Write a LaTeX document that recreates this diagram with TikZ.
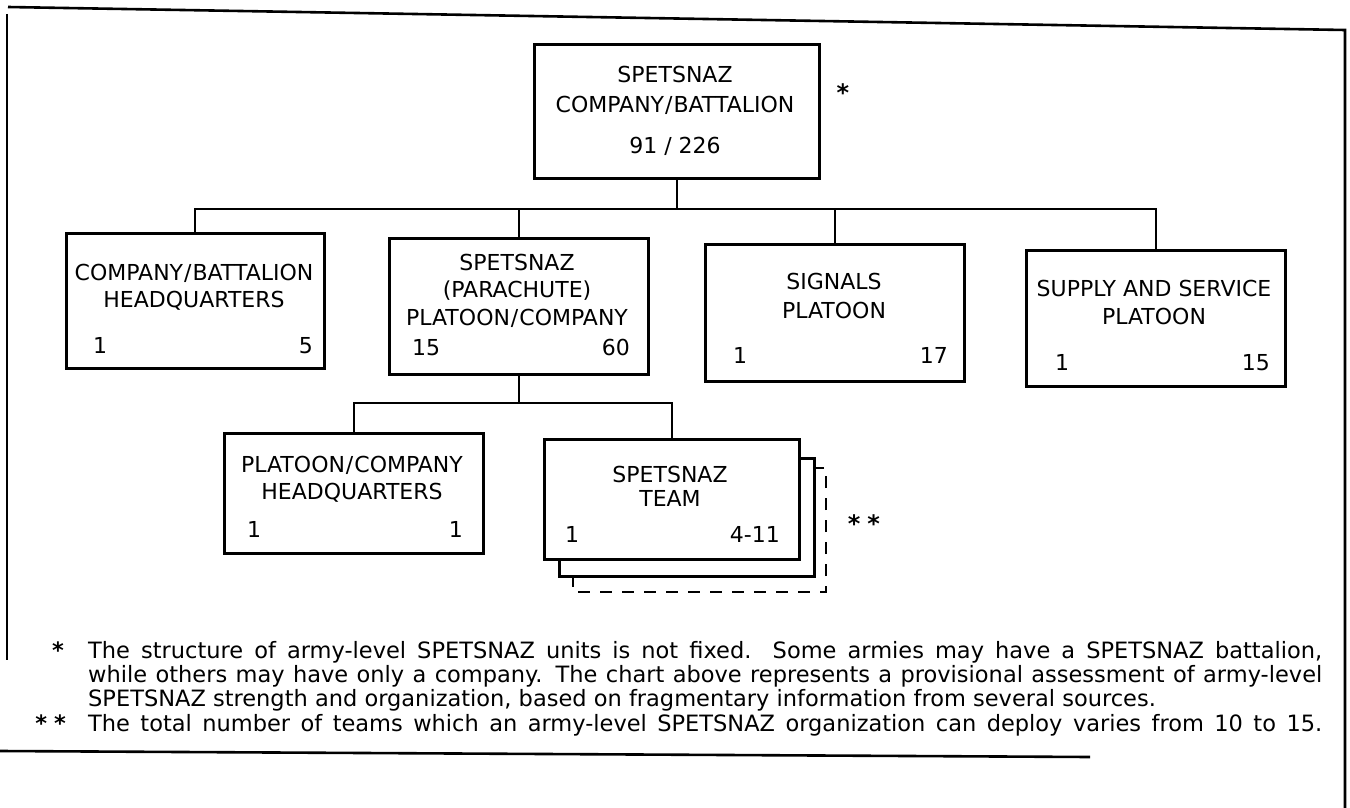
\documentclass[tikz,border=0pt]{standalone}
\usepackage{fontspec}
\setmainfont{DejaVu Sans}
\begin{document}
\begin{tikzpicture}[x=1pt,y=-1pt]
\tikzset{
 box/.style={draw, line width=2.6pt, fill=white, inner sep=0pt, anchor=north west},
 conn/.style={line width=2pt},
 framel/.style={line width=2.6pt},
 lbl/.style={font=\fontsize{22}{24}\selectfont, inner sep=0pt, anchor=base},
 lnum/.style={font=\fontsize{22}{24}\selectfont, inner sep=0pt, anchor=base west},
 rnum/.style={font=\fontsize{22}{24}\selectfont, inner sep=0pt, anchor=base east},
 note/.style={font=\fontsize{22.5}{25}\selectfont, inner sep=0pt, anchor=base west},
 notestar/.style={font=\bfseries\fontsize{22.5}{25}\selectfont, inner sep=0pt, anchor=base east},
 star/.style={font=\bfseries\fontsize{24}{26}\selectfont, inner sep=0pt, anchor=base},
}
\useasboundingbox (0,0) rectangle (1350,808);
% frame
\draw[framel] (8,7) -- (1345,30) -- (1345,808);
\draw[framel] (7,14) -- (7,660);
\draw[framel] (0,751) -- (1090,757);

% top box
\node[box, minimum width=285pt, minimum height=134pt] (top) at (533,43) {};
\node[lbl] (t1) at (675,82) {SPETSNAZ};
\node[lbl] (t2) at (675,112) {COMPANY\kern1pt/\kern1pt BATTALION};
\node[lbl] (t3) at (675,153) {91 / 226};
\node[star] (s1) at (843,102) {*};

% level 2
\node[box, minimum width=258pt, minimum height=135pt] (b1) at (65,232) {};
\node[box, minimum width=259pt, minimum height=136pt] (b2) at (388,237) {};
\node[box, minimum width=259pt, minimum height=137pt] (b3) at (704,243) {};
\node[box, minimum width=259pt, minimum height=136pt] (b4) at (1025,249) {};

\node[lbl] (b1a) at (194,280) {COMPANY\kern1pt/\kern1pt BATTALION};
\node[lbl] (b1b) at (194,307) {HEADQUARTERS};
\node[lnum] (b1l) at (93,353) {1};
\node[rnum] (b1r) at (313,353) {5};

\node[lbl] (b2a) at (517,270) {SPETSNAZ};
\node[lbl] (b2b) at (517,297) {(PARACHUTE)};
\node[lbl] (b2c) at (517,325) {PLATOON\kern1pt/\kern1pt COMPANY};
\node[lnum] (b2l) at (412,355) {15};
\node[rnum] (b2r) at (630,355) {60};

\node[lbl] (b3a) at (834,289) {SIGNALS};
\node[lbl] (b3b) at (834,318) {PLATOON};
\node[lnum] (b3l) at (733,363) {1};
\node[rnum] (b3r) at (948,363) {17};

\node[lbl] (b4a) at (1154,296) {SUPPLY AND SERVICE};
\node[lbl] (b4b) at (1154,324) {PLATOON};
\node[lnum] (b4l) at (1055,370) {1};
\node[rnum] (b4r) at (1270,370) {15};

% connectors level 1-2
\coordinate (j0) at (674,209);
\draw[conn] (top.south) -- (top.south |- j0);
\draw[conn] (b1.north) |- (b4.north |- j0) -- (b4.north);
\draw[conn] (b2.north) -- (b2.north |- j0);
\draw[conn] (b3.north) -- (b3.north |- j0);

% level 3
\draw[conn, dash pattern=on 12pt off 10pt] (573,575) -- (573,592) -- (826,592) -- (826,468) -- (813,468);
\node[box, minimum width=255pt, minimum height=118pt] (c2b) at (558,457) {};
\node[box, minimum width=255pt, minimum height=120pt] (c2) at (543,438) {};
\node[box, minimum width=259pt, minimum height=120pt] (c1) at (223,432) {};

\node[lbl] (c1a) at (352,472) {PLATOON\kern1pt/\kern1pt COMPANY};
\node[lbl] (c1b) at (352,499) {HEADQUARTERS};
\node[lnum] (c1l) at (247,537) {1};
\node[rnum] (c1r) at (463,537) {1};

\node[lbl] (c2a) at (670,482) {SPETSNAZ};
\node[lbl] (c2t) at (670,506) {TEAM};
\node[lnum] (c2l) at (565,542) {1};
\node[rnum] (c2r) at (780,542) {4-11};
\node[star] (s2) at (864,532) {*\hspace{7pt}*};

\coordinate (j1) at (0,403);
\draw[conn] (b2.south) -- (b2.south |- j1);
\draw[conn] (c1.north) |- (c2.north |- j1) -- (c2.north);

% footnotes
\node[notestar] (f1s) at (64,658) {*};
\node[note] (f1) at (88,658) {\makebox[1234pt][s]{The structure of army-level SPETSNAZ units is not fixed. Some armies may have a SPETSNAZ battalion,}};
\node[note] (f2) at (88,682) {\makebox[1234pt][s]{while others may have only a company. The chart above represents a provisional assessment of army-level}};
\node[note] (f3) at (88,706) {SPETSNAZ strength and organization, based on fragmentary information from several sources.};
\node[notestar] (f4s) at (66,731) {*\hspace{7pt}*};
\node[note] (f4) at (88,731) {\makebox[1234pt][s]{The total number of teams which an army-level SPETSNAZ organization can deploy varies from 10 to 15.}};
\end{tikzpicture}
\end{document}
